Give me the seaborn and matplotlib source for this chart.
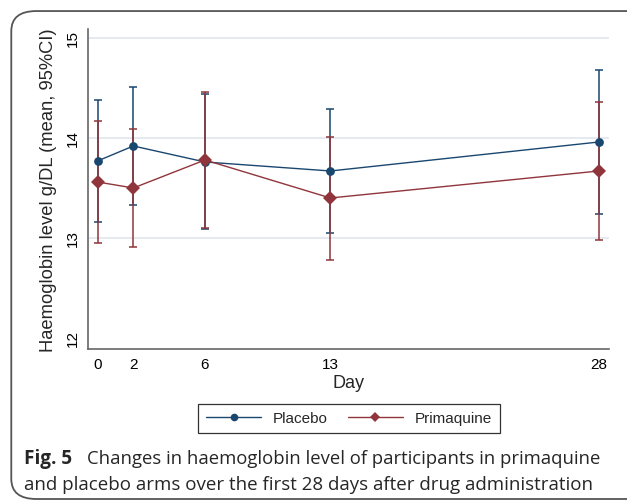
import numpy as np
import pandas as pd
import matplotlib
matplotlib.use("Agg")
import matplotlib.pyplot as plt
import seaborn as sns
from matplotlib.patches import FancyBboxPatch
from matplotlib.lines import Line2D

days = [0, 2, 6, 13, 28]
arms = ["Placebo", "Primaquine"]

placebo_mean = [13.77, 13.92, 13.76, 13.67, 13.96]
placebo_lo   = [13.16, 13.33, 13.09, 13.05, 13.24]
placebo_hi   = [14.38, 14.51, 14.44, 14.29, 14.68]

prim_mean = [13.56, 13.50, 13.78, 13.40, 13.67]
prim_lo   = [12.95, 12.91, 13.10, 12.78, 12.98]
prim_hi   = [14.17, 14.09, 14.46, 14.01, 14.36]

y_ticks = [12, 13, 14, 15]
grid_at = [13, 14, 15]

BLUE = "#1a476f"
RED = "#90353b"

df = pd.DataFrame({
    "Day": days * 2,
    "Hb": placebo_mean + prim_mean,
    "lo": placebo_lo + prim_lo,
    "hi": placebo_hi + prim_hi,
    "Arm": [arms[0]] * len(days) + [arms[1]] * len(days),
})

sns.set_style("white")
plt.rcParams["font.family"] = ["Liberation Sans", "DejaVu Sans"]

fig = plt.figure(figsize=(6.27, 5.02), dpi=100)
ax = fig.add_axes([0.1404, 0.3028, 0.831, 0.6375])

for g in grid_at:
    ax.axhline(g, color="#dfe6ec", lw=1.2, zorder=0)

palette = {"Placebo": BLUE, "Primaquine": RED}
markers = {"Placebo": "o", "Primaquine": "D"}

for arm in arms:
    sub = df[df["Arm"] == arm]
    ax.errorbar(sub["Day"], sub["Hb"],
                yerr=[sub["Hb"] - sub["lo"], sub["hi"] - sub["Hb"]],
                fmt="none", ecolor=palette[arm], elinewidth=1.1,
                capsize=3, capthick=1.1, zorder=2)
    sns.lineplot(data=sub, x="Day", y="Hb", color=palette[arm],
                 marker=markers[arm], markersize=6.3 if arm == "Placebo" else 6.8,
                 markeredgewidth=0, lw=1.0, ax=ax, zorder=3,
                 errorbar=None, legend=False)

ax.set_xlim(-0.53, 28.56)
ax.set_ylim(11.89, 15.09)
ax.set_xticks(days)
ax.set_yticks(y_ticks)
ax.set_yticklabels([str(t) for t in y_ticks], rotation=90, va="center")
ax.tick_params(axis="both", length=4, width=0.8, colors="#333333",
               labelcolor="black", labelsize=11, direction="out")
ax.tick_params(axis="x", pad=2)
ax.tick_params(axis="y", pad=2)

for side in ["top", "right"]:
    ax.spines[side].set_visible(False)
for side in ["left", "bottom"]:
    ax.spines[side].set_color("#666666")
    ax.spines[side].set_linewidth(1.2)

ax.set_xlabel("Day", fontsize=13, labelpad=2)
ax.set_ylabel("Haemoglobin level g/DL (mean, 95%CI)", fontsize=13.2, labelpad=6)

handles = [
    Line2D([], [], color=palette[a], marker=markers[a], markersize=5.5,
           markeredgewidth=0, lw=1.0) for a in arms
]
leg = fig.legend(handles, arms, loc="upper center", ncol=2,
                 bbox_to_anchor=(0.557, 0.209), frameon=True, fancybox=False,
                 edgecolor="black", fontsize=11, handlelength=3.6,
                 columnspacing=1.3, borderpad=0.5, handletextpad=0.8)
leg.get_frame().set_linewidth(0.9)

frame = FancyBboxPatch((0.018, 0.004), 1.2, 0.972,
                       boxstyle="round,pad=0,rounding_size=0.04",
                       transform=fig.transFigure, fill=False,
                       edgecolor="#555555", lw=1.3, clip_on=False)
fig.patches.append(frame)

cap_font = ["Open Sans", "DejaVu Sans"]
fig.text(0.038, 0.076, "Fig. 5", fontsize=13.6, fontweight="bold",
         family=cap_font, va="baseline")
fig.text(0.139, 0.076, "Changes in haemoglobin level of participants in primaquine",
         fontsize=13.3, family=cap_font, va="baseline")
fig.text(0.038, 0.024, "and placebo arms over the first 28 days after drug administration",
         fontsize=13.5, family=cap_font, va="baseline")

fig.savefig("out.png", dpi=100)
